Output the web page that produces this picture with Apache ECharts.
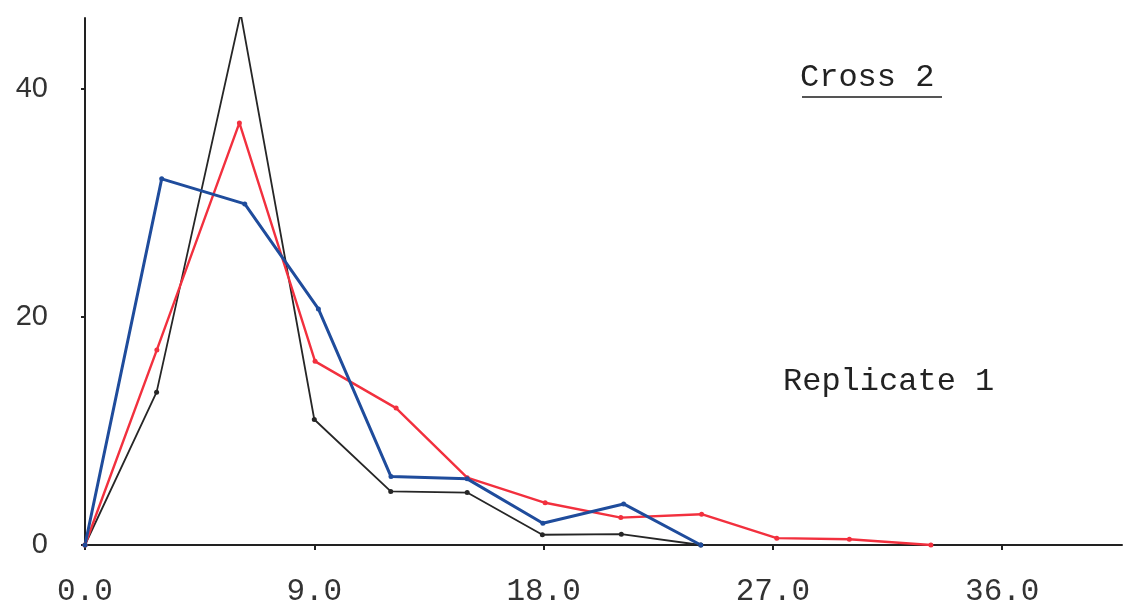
<!DOCTYPE html>
<html>
<head>
<meta charset="utf-8">
<title>Cross 2 - Replicate 1</title>
<script src="https://cdn.jsdelivr.net/npm/echarts@6/dist/echarts.min.js"></script>
<style>
    html, body { margin: 0; padding: 0; background: #fff; }
    #chart { width: 1128px; height: 614px; }
</style>
</head>
<body>
<div id="chart"></div>
<script>
// Values
const blackX = [0, 2.81, 6.11, 9.0, 12.0, 15.0, 17.95, 21.05, 24.17];
const blackY = [0, 13.4, 46.6, 11.0, 4.7, 4.6, 0.9, 0.95, 0];

const redX = [0, 2.82, 6.06, 9.03, 12.21, 15.0, 18.06, 21.03, 24.2, 27.15, 30.0, 33.2];
const redY = [0, 17.1, 37.0, 16.1, 12.0, 5.9, 3.7, 2.4, 2.7, 0.6, 0.5, 0];

const blueX = [0, 3.01, 6.27, 9.16, 12.01, 15.0, 17.97, 21.14, 24.17];
const blueY = [0, 32.1, 29.9, 20.7, 6.0, 5.8, 1.9, 3.6, 0];

const xTicks = [0, 9, 18, 27, 36];
const yTicks = [0, 20, 40];

const titleText = 'Cross 2';
const subText = 'Replicate 1';

const pairs = (xs, ys) => xs.map((x, i) => [x, ys[i]]);

const chart = echarts.init(document.getElementById('chart'), null, { renderer: 'canvas' });

function lineSeries(name, xs, ys, color, width) {
    return {
        name: name,
        type: 'line',
        data: pairs(xs, ys),
        symbol: 'circle',
        symbolSize: 5,
        showSymbol: true,
        itemStyle: { color: color },
        lineStyle: { color: color, width: width },
        animation: false
    };
}

const option = {
    backgroundColor: '#fff',
    grid: { left: 85, right: 6, top: 18, bottom: 69, containLabel: false },
    xAxis: {
        type: 'value',
        min: 0,
        max: 40.7,
        interval: 9,
        axisLine: { show: true, onZero: false, lineStyle: { color: '#222', width: 2 } },
        axisTick: { show: true, length: 5, lineStyle: { color: '#222', width: 2 } },
        splitLine: { show: false },
        axisLabel: {
            color: '#333',
            fontFamily: 'Liberation Mono',
            fontSize: 31,
            margin: 31,
            showMaxLabel: false,
            formatter: (v) => xTicks.includes(v) ? v.toFixed(1) : ''
        }
    },
    yAxis: {
        type: 'value',
        min: 0,
        max: 46.2,
        interval: 20,
        axisLine: { show: true, onZero: false, lineStyle: { color: '#222', width: 2 } },
        axisTick: { show: true, length: 4, lineStyle: { color: '#222', width: 2 } },
        splitLine: { show: false },
        axisLabel: {
            color: '#333',
            fontFamily: 'Liberation Sans',
            fontSize: 29,
            margin: 37,
            showMaxLabel: false,
            formatter: (v) => yTicks.includes(v) ? String(v) : ''
        }
    },
    graphic: [
        {
            type: 'text',
            left: 800,
            top: 62,
            style: {
                text: titleText,
                font: '32px "Liberation Mono"',
                fill: '#222'
            }
        },
        {
            type: 'line',
            shape: { x1: 802, y1: 97, x2: 942, y2: 97 },
            style: { stroke: '#555', lineWidth: 2 }
        },
        {
            type: 'text',
            left: 783,
            top: 366,
            style: {
                text: subText,
                font: '32px "Liberation Mono"',
                fill: '#222'
            }
        }
    ],
    series: [
        lineSeries('black', blackX, blackY, '#262626', 1.8),
        lineSeries('red', redX, redY, '#f2303e', 2.4),
        lineSeries('blue', blueX, blueY, '#1f4c9c', 3)
    ]
};

chart.setOption(option);
window.addEventListener('resize', () => chart?.resize());
</script>
</body>
</html>
